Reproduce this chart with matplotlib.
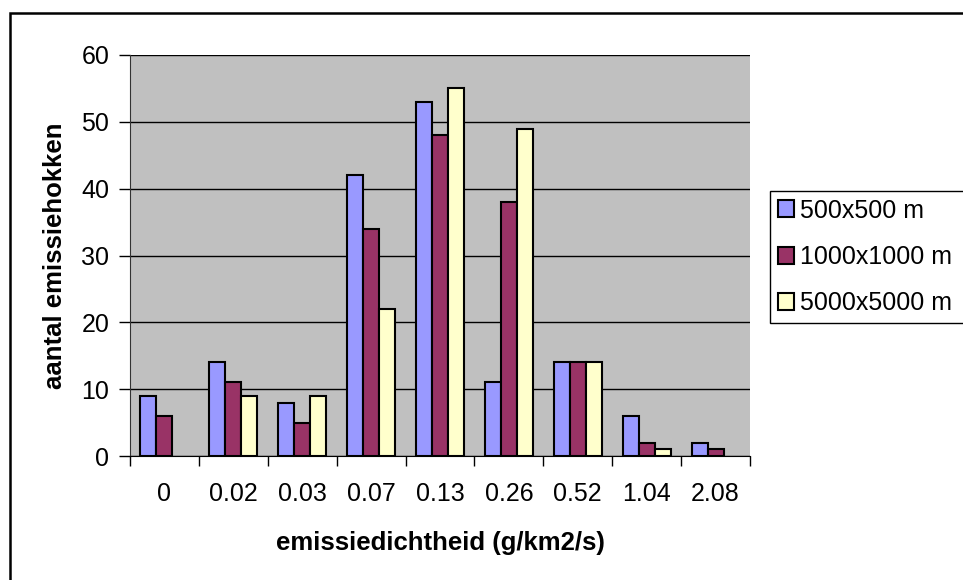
import matplotlib.pyplot as plt
import numpy as np
from matplotlib.patches import Rectangle

# Data
categories = ['0', '0.02', '0.03', '0.07', '0.13', '0.26', '0.52', '1.04', '2.08']
grid_500 = [9, 14, 8, 42, 53, 11, 14, 6, 2]
grid_1000 = [6, 11, 5, 34, 48, 38, 14, 2, 1]
grid_5000 = [0, 9, 9, 22, 55, 49, 14, 1, 0]
series_names = ['500x500 m', '1000x1000 m', '5000x5000 m']

plt.rcParams['font.family'] = ['Liberation Sans', 'DejaVu Sans']

fig = plt.figure(figsize=(9.63, 5.8), dpi=100)
ax = fig.add_axes([130 / 963, 1 - 456 / 580, 620 / 963, 401 / 580])
ax.set_facecolor('#C0C0C0')

x = np.arange(len(categories))
w = 0.232
colors = ['#9999FF', '#993366', '#FFFFCC']
for i, (vals, name) in enumerate(zip([grid_500, grid_1000, grid_5000], series_names)):
    vals = np.array(vals, dtype=float)
    vals[vals == 0] = np.nan  # zero bars are not drawn in the original
    ax.bar(x + (i - 1) * w, vals, width=w, color=colors[i], edgecolor='black',
           linewidth=1.5, label=name, zorder=3)

ax.set_xlim(-0.5, len(categories) - 0.5)
ax.set_ylim(0, 60)
ax.set_yticks(range(0, 61, 10))
ax.yaxis.grid(True, color='black', linewidth=1, zorder=1)
ax.set_axisbelow(True)

# category labels at centres, tick marks at boundaries
ax.set_xticks(x)
ax.set_xticklabels(categories)
ax.tick_params(axis='x', length=0, pad=19, labelsize=18)
ax.set_xticks(np.arange(-0.5, len(categories), 1), minor=True)
ax.tick_params(axis='x', which='minor', length=7, width=1, direction='out')
ax.tick_params(axis='y', length=8, width=1, direction='out', labelsize=18, pad=7)

for s in ['top', 'right']:
    ax.spines[s].set_visible(False)
ax.spines['left'].set_color('#333333')
ax.spines['bottom'].set_color('black')

ax.set_xlabel('emissiedichtheid (g/km2/s)', fontsize=18.5, fontweight='bold', labelpad=18)
ax.set_ylabel('aantal emissiehokken', fontsize=18.5, fontweight='bold', labelpad=10)

leg = fig.legend(loc='upper left', bbox_to_anchor=(770 / 963, 1 - 318 / 580, 0.25, 127 / 580),
                 mode='expand', borderaxespad=0, fontsize=18, handlelength=0.65,
                 handleheight=0.65, handletextpad=0.25, labelspacing=0.9, fancybox=False,
                 edgecolor='black', framealpha=1, borderpad=0.3)
leg.get_frame().set_linewidth(1)

# outer chart frame (only left and top visible in the crop)
fig.add_artist(Rectangle((10 / 963, -0.1), 1.2, 1.1 - 13 / 580, fill=False,
                         edgecolor='black', linewidth=1.8, transform=fig.transFigure,
                         clip_on=False))

plt.savefig('out.png', dpi=100)
